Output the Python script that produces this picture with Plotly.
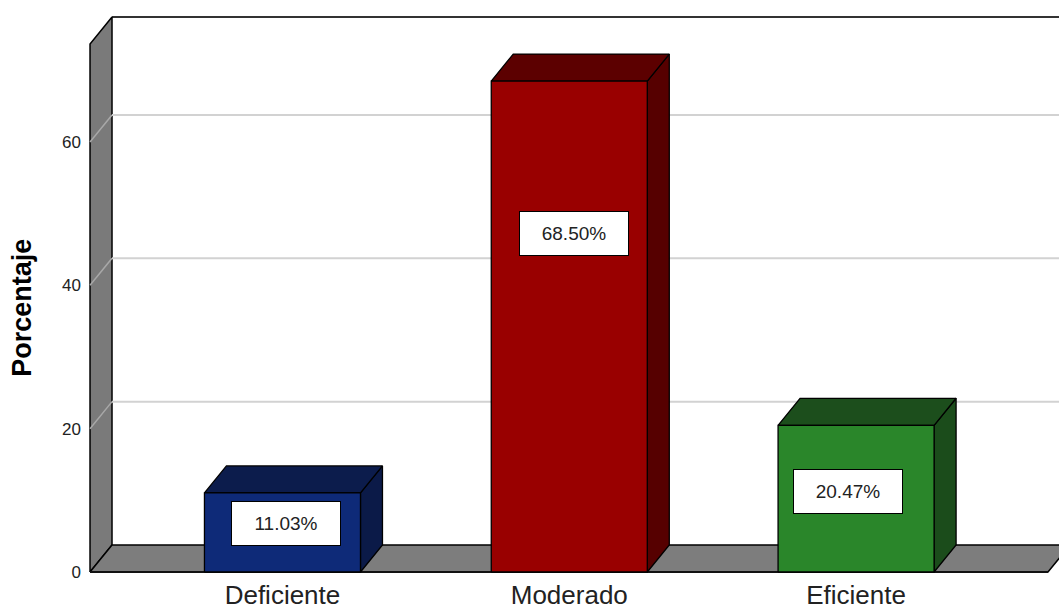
import plotly.graph_objects as go

# Survey result: share of responses per level
categories = ["Deficiente", "Moderado", "Eficiente"]
percentages = [11.03, 68.50, 20.47]
y_ticks = [0, 20, 40, 60]

# Face colours of each 3-D bar: front, top, side
front_colors = ["#0e2a78", "#990000", "#2a862a"]
top_colors = ["#0c1c4c", "#5c0000", "#1c4e1c"]
side_colors = ["#0b1a48", "#560000", "#1b4c1b"]

# Heights at which the value boxes sit inside the bars
label_heights = [6.8, 47.2, 11.2]
label_dx = [0.012, 0.016, -0.028]

# Pseudo-3D geometry (data units)
BAR_W = 0.544          # width of a bar's front face
DX, DY = 0.0767, 3.77  # offset from front plane to back plane
WALL_X = -0.671        # front-left corner of the chart box
FLOOR_END = 2.669      # right end of the floor's front edge
WALL_H = 73.67         # height of the back wall

FONT = "Liberation Sans, Arial, sans-serif"


def pt(x, v, d):
    """Project a point (x, value, depth) onto the axes; depth 0 front, 1 back."""
    return x + d * DX, v + d * DY


def poly(points, fill, line_color="black", width=1.3):
    xs, ys = zip(*[pt(*p) for p in points])
    return go.Scatter(
        x=list(xs) + [xs[0]], y=list(ys) + [ys[0]],
        mode="lines", fill="toself", fillcolor=fill,
        line=dict(color=line_color, width=width),
        hoverinfo="skip", showlegend=False,
    )


def polyline(points, color, width):
    xs, ys = zip(*[pt(*p) for p in points])
    return go.Scatter(
        x=list(xs), y=list(ys), mode="lines",
        line=dict(color=color, width=width),
        hoverinfo="skip", showlegend=False,
    )


fig = go.Figure()

# Back wall top edge
fig.add_trace(polyline([(WALL_X, WALL_H, 1), (3.2, WALL_H, 1)], "#333333", 2.2))

# Left wall
fig.add_trace(poly([(WALL_X, 0, 0), (WALL_X, WALL_H, 0), (WALL_X, WALL_H, 1), (WALL_X, 0, 1)],
                   "#7a7a7a", width=1.5))

# Gridlines: diagonal across the left wall, horizontal along the back wall
for t in y_ticks[1:]:
    fig.add_trace(polyline([(WALL_X, t, 0), (WALL_X, t, 1)], "#a8a8a8", 1.5))
    fig.add_trace(polyline([(WALL_X, t, 1), (3.2, t, 1)], "#d2d2d2", 2))

# Floor
fig.add_trace(poly([(WALL_X, 0, 0), (WALL_X, 0, 1), (FLOOR_END, 0, 1), (FLOOR_END, 0, 0)],
                   "#7d7d7d", width=1.5))
fig.add_trace(polyline([(WALL_X, 0, 0), (FLOOR_END, 0, 0)], "#111111", 2.2))

# Bars: side, top, then front face
for i, v in enumerate(percentages):
    x0, x1 = i - BAR_W / 2, i + BAR_W / 2
    fig.add_trace(poly([(x1, 0, 0), (x1, v, 0), (x1, v, 1), (x1, 0, 1)], side_colors[i]))
    fig.add_trace(poly([(x0, v, 0), (x0, v, 1), (x1, v, 1), (x1, v, 0)], top_colors[i]))
    fig.add_trace(poly([(x0, 0, 0), (x0, v, 0), (x1, v, 0), (x1, 0, 0)], front_colors[i]))
    fig.add_annotation(
        x=i + label_dx[i], y=label_heights[i], text=f"{v:.2f}%",
        showarrow=False, xanchor="center", yanchor="middle",
        bgcolor="white", bordercolor="black", borderwidth=1, borderpad=0,
        width=108, height=43,
        font=dict(family=FONT, size=19, color="#222222"),
    )

# Axis title, centred on the front edge of the left wall
fig.add_annotation(
    xref="paper", x=-0.066, y=WALL_H / 2, text="<b>Porcentaje</b>",
    textangle=-90, showarrow=False, xanchor="center", yanchor="middle",
    font=dict(family=FONT, size=27, color="black"),
)

fig.update_layout(
    width=1059, height=609,
    margin=dict(l=86, r=0, t=14, b=33),
    paper_bgcolor="white", plot_bgcolor="white",
    showlegend=False,
    xaxis=dict(
        range=[-0.685, 2.7075], automargin=False,
        tickmode="array", tickvals=list(range(len(categories))), ticktext=categories,
        showgrid=False, zeroline=False, showline=False, ticks="",
        tickfont=dict(family=FONT, size=26, color="#222222"),
        ticklabelstandoff=1, fixedrange=True,
    ),
    yaxis=dict(
        range=[-0.558, 77.86], automargin=False,
        tickmode="array", tickvals=y_ticks, ticktext=[str(t) for t in y_ticks],
        showgrid=False, zeroline=False, showline=False, ticks="",
        tickfont=dict(family=FONT, size=17, color="#222222"),
        ticklabelstandoff=4, fixedrange=True,
    ),
)

fig.write_html("out.html")
